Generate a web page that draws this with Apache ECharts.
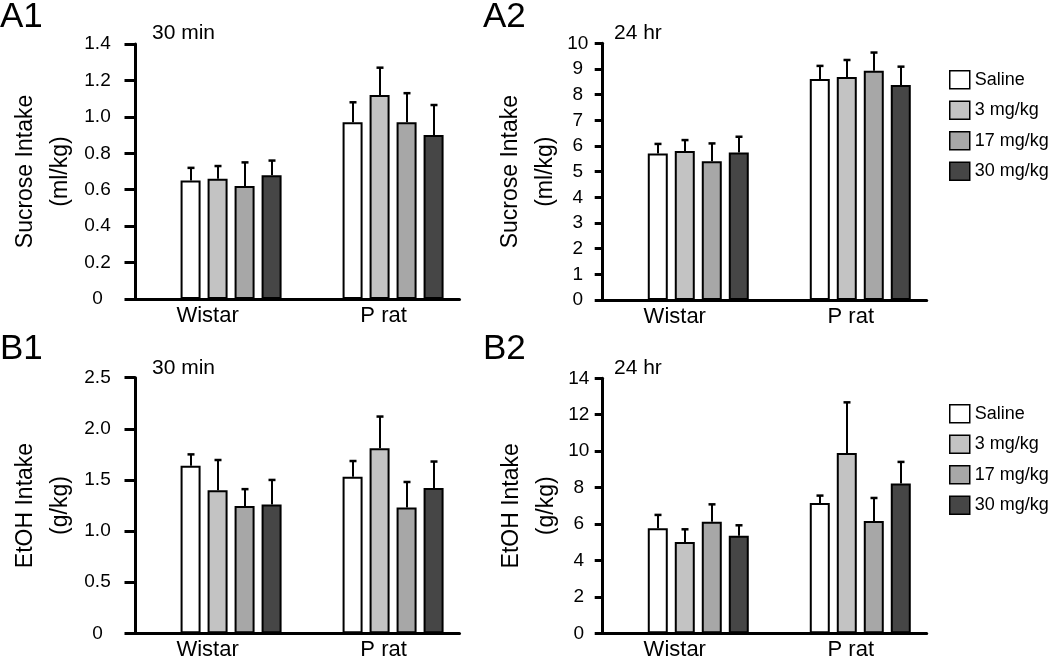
<!DOCTYPE html>
<html>
<head>
<meta charset="utf-8">
<script src="https://cdn.jsdelivr.net/npm/echarts@6/dist/echarts.min.js"></script>
<style>
html,body{margin:0;padding:0;background:#fff;}
#chart{width:1050px;height:662px;}
</style>
</head>
<body>
<div id="chart"></div>
<script>
// ---- data ----
const groups = ['Wistar', 'P rat'];
const doses = ['Saline', '3 mg/kg', '17 mg/kg', '30 mg/kg'];
const doseColors = ['#ffffff', '#c3c3c3', '#a7a7a7', '#464646'];

// rows = dose, columns = [Wistar, P rat]
const a1Means = [[0.65, 0.97], [0.66, 1.12], [0.62, 0.97], [0.68, 0.90]];
const a1Sems  = [[0.07, 0.11], [0.07, 0.15], [0.13, 0.16], [0.08, 0.165]];
const a2Means = [[5.71, 8.61], [5.80, 8.69], [5.41, 8.93], [5.75, 8.38]];
const a2Sems  = [[0.37, 0.51], [0.43, 0.66], [0.69, 0.71], [0.61, 0.71]];
const b1Means = [[1.64, 1.53], [1.40, 1.81], [1.245, 1.23], [1.26, 1.42]];
const b1Sems  = [[0.11, 0.155], [0.295, 0.31], [0.165, 0.25], [0.24, 0.26]];
const b2Means = [[5.77, 7.16], [5.01, 9.90], [6.13, 6.17], [5.36, 8.22]];
const b2Sems  = [[0.73, 0.40], [0.70, 2.78], [0.95, 1.26], [0.57, 1.19]];

const panelLabels = ['A1', 'A2', 'B1', 'B2'];
const timeLabels = ['30 min', '24 hr', '30 min', '24 hr'];
const yNames = ['Sucrose Intake\n(ml/kg)', 'Sucrose Intake\n(ml/kg)', 'EtOH Intake\n(g/kg)', 'EtOH Intake\n(g/kg)'];
const yMaxes = [1.4, 10, 2.5, 14];
const yIntervals = [0.2, 1, 0.5, 2];
const yDecimals = [1, 0, 1, 0];

// ---- layout ----
const FONT = 'Liberation Sans, Arial, Helvetica, sans-serif';
const panels = [
  { means: a1Means, sems: a1Sems, left: 135.5, top: 44,    height: 255,   tickLen: 11, labelMargin: 38, nameGap: 57, lblX: 0,   lblY: 0,   timeX: 152, timeY: 23 },
  { means: a2Means, sems: a2Sems, left: 602.7, top: 43.3,  height: 256.7, tickLen: 8,  labelMargin: 25, nameGap: 34, lblX: 483, lblY: 0,   timeX: 614, timeY: 23 },
  { means: b1Means, sems: b1Sems, left: 135.5, top: 377.7, height: 255.6, tickLen: 11, labelMargin: 38, nameGap: 57, lblX: 0,   lblY: 332, timeX: 152, timeY: 358 },
  { means: b2Means, sems: b2Sems, left: 602.7, top: 378.3, height: 255,   tickLen: 8,  labelMargin: 24, nameGap: 34, lblX: 483, lblY: 332, timeX: 614, timeY: 358 }
];
const gridWidth = 324;
const xMin = 0.41, xMax = 2.41;
const groupX = [1, 2];
const barW = 20, barGapPx = 7;

const grids = [], xAxes = [], yAxes = [], series = [], titles = [];

panels.forEach((p, g) => {
  grids.push({ left: p.left, top: p.top, width: gridWidth, height: p.height, containLabel: false });
  xAxes.push({
    gridIndex: g, type: 'value', min: xMin, max: xMax,
    axisLine: { show: true, onZero: false, lineStyle: { color: '#000', width: 3 } },
    axisTick: { show: false }, splitLine: { show: false },
    axisLabel: {
      customValues: groupX,
      margin: 6,
      color: '#000', fontFamily: FONT, fontSize: 22,
      formatter: v => (Math.round(v) === 1 ? '{w|' : '{p|') + groups[Math.round(v) - 1] + '}',
      rich: {
        w: { fontFamily: FONT, fontSize: 22, color: '#000', padding: [0, 47, 0, 0] },
        p: { fontFamily: FONT, fontSize: 22, color: '#000', padding: [0, 19, 0, 0] }
      }
    }
  });
  yAxes.push({
    gridIndex: g, type: 'value', min: 0, max: yMaxes[g], interval: yIntervals[g],
    name: yNames[g], nameLocation: 'middle', nameGap: p.nameGap, nameRotate: 90,
    nameTextStyle: { fontFamily: FONT, fontSize: 23, color: '#000', lineHeight: 35 },
    axisLine: { show: true, onZero: false, lineStyle: { color: '#000', width: 3 } },
    axisTick: { show: true, length: p.tickLen, lineStyle: { color: '#000', width: 3 } },
    splitLine: { show: false },
    axisLabel: {
      margin: p.labelMargin, align: 'center', color: '#000', fontFamily: FONT, fontSize: 19,
      padding: [0, 0, 6, 0],
      formatter: v => (v === 0 ? '0' : v.toFixed(yDecimals[g]))
    }
  });
  doses.forEach((d, i) => {
    series.push({
      type: 'bar', name: d, xAxisIndex: g, yAxisIndex: g,
      barWidth: barW, barGap: (barGapPx / barW * 100) + '%',
      itemStyle: { color: doseColors[i], borderColor: '#000', borderWidth: 2 },
      data: groupX.map((x, k) => [x, p.means[i][k]]),
      z: 2
    });
  });
  doses.forEach((d, i) => {
    const offset = (i - 1.5) * (barW + barGapPx);
    series.push({
      type: 'custom', xAxisIndex: g, yAxisIndex: g, z: 3,
      encode: { x: 0, y: 1 },
      renderItem: (params, api) => {
        const x = api.value(0), v = api.value(1), e = api.value(2);
        const p0 = api.coord([x, v]);
        const p1 = api.coord([x, v + e]);
        const cx = Math.round(p0[0] + offset);
        return {
          type: 'group',
          children: [
            { type: 'line', shape: { x1: cx, y1: p0[1], x2: cx, y2: p1[1] }, style: { stroke: '#000', lineWidth: 2 } },
            { type: 'line', shape: { x1: cx - 3.5, y1: p1[1], x2: cx + 3.5, y2: p1[1] }, style: { stroke: '#000', lineWidth: 2.5 } }
          ]
        };
      },
      data: groupX.map((x, k) => [x, p.means[i][k], p.sems[i][k]])
    });
  });
  titles.push({ text: panelLabels[g], left: p.lblX, top: p.lblY, padding: 0,
    textStyle: { fontFamily: FONT, fontSize: 35, fontWeight: 'normal', color: '#000' } });
  titles.push({ text: timeLabels[g], left: p.timeX, top: p.timeY, padding: 0,
    textStyle: { fontFamily: FONT, fontSize: 21, fontWeight: 'normal', color: '#000' } });
});

const legendBase = {
  orient: 'vertical', left: 949, padding: 0, itemWidth: 20, itemHeight: 18, itemGap: 11,
  icon: 'rect', selectedMode: false, data: doses,
  itemStyle: { borderColor: '#000', borderWidth: 1.5 },
  textStyle: { fontFamily: FONT, fontSize: 18, color: '#000', lineHeight: 18 }
};

const chart = echarts.init(document.getElementById('chart'), null, { renderer: 'canvas' });
chart.setOption({
  animation: false,
  backgroundColor: '#fff',
  title: titles,
  legend: [Object.assign({}, legendBase, { top: 70 }), Object.assign({}, legendBase, { top: 404 })],
  grid: grids, xAxis: xAxes, yAxis: yAxes, series: series
});
</script>
</body>
</html>
